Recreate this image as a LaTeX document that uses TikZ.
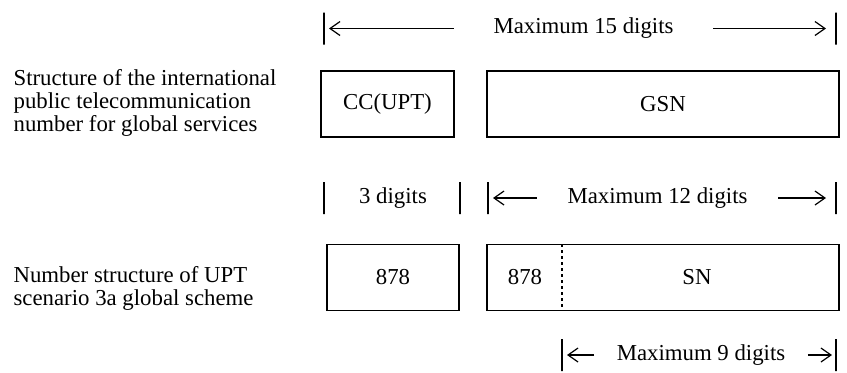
\documentclass[tikz,border=0pt]{standalone}
\usepackage{fontspec}
\setmainfont{Liberation Serif}
\usetikzlibrary{arrows.meta}

\begin{document}
\begin{tikzpicture}[x=0.5pt, y=-0.5pt, line width=0.6pt,
		font=\fontsize{11.4}{11.5}\selectfont,
		>={Straight Barb[length=5pt,width=7pt]},
		field/.style={draw, inner sep=0pt, minimum height=33pt},
		span/.style={inner sep=0pt},
		bar/.style={draw, inner sep=0pt, minimum width=0pt, minimum height=16pt}]
	\useasboundingbox (0,0) rectangle (847,372);
	% Nhãn bên trái
	\node[span, anchor=west, align=left] (gsdesc) at (13,103)
		{Structure of the international\\public telecommunication\\number for global services};
	\node[span, anchor=west, align=left] (uptdesc) at (13,288)
		{Number structure of UPT\\scenario 3a global scheme};
	
	% Hàng trên: CC(UPT) và GSN
	\node[field, minimum width=66.5pt] (cc) at (387.5,104) {CC(UPT)};
	\node[field, minimum width=176pt] (gsn) at (663,104) {GSN};
	
	% Hàng dưới: 878 và 878 | SN
	\node[field, minimum width=66pt] (ccupt) at (393,277.5) {878};
	\node[field, minimum width=176pt] (snbox) at (663,277.5) {};
	\coordinate (split) at (562,244);
	\draw[line width=0.7pt, dash pattern=on 1.5pt off 1.5pt] (split) -- (split |- snbox.south);
	\node[span] (prefix) at (525,277.5) {878};
	\node[span] (sn) at (697,277.5) {SN};
	
	% Maximum 15 digits
	\node[bar] (l15) at (324,28.5) {};
	\node[bar] (r15) at (836,28.5) {};
	\node[span, inner xsep=19.5pt] (t15) at (583.5,28.5) {Maximum 15 digits};
	\draw[->, shorten >=2.5pt] (t15.west) -- (l15.center);
	\draw[->, shorten >=5pt] (t15.east) -- (r15.center);
	
	% 3 digits | Maximum 12 digits
	\node[bar] (l3) at (324,198) {};
	\node[bar] (r3) at (460,198) {};
	\node[span] (t3) at (393,198) {3 digits};
	\node[bar] (l12) at (488,198) {};
	\node[bar] (r12) at (836,198) {};
	\node[span, inner xsep=15pt] (t12) at (657.5,198) {Maximum 12 digits};
	\draw[->, shorten >=2.5pt] (t12.west) -- (l12.center);
	\draw[->, shorten >=5pt] (t12.east) -- (r12.center);
	
	% Maximum 9 digits
	\node[bar] (l9) at (562,355) {};
	\node[bar] (r9) at (836,355) {};
	\node[span, inner xsep=11pt] (t9) at (701,355) {Maximum 9 digits};
	\draw[->, shorten >=2.5pt] (t9.west) -- (l9.center);
	\draw[->, shorten >=2pt] (t9.east) -- (r9.center);
\end{tikzpicture}
\end{document}
